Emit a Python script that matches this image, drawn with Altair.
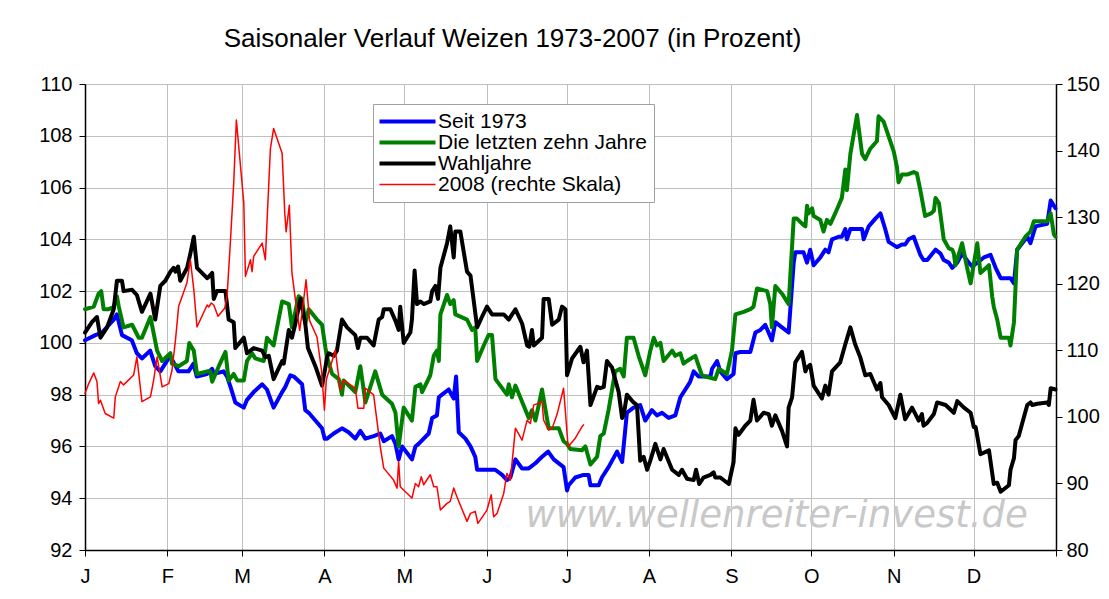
import altair as alt
import pandas as pd

# ---------------- data (day of year, value) ----------------
months = ["J", "F", "M", "A", "M", "J", "J", "A", "S", "O", "N", "D"]
month_start = [0, 31, 59, 90, 120, 151, 181, 212, 243, 273, 304, 334, 365]
left_ticks = [92, 94, 96, 98, 100, 102, 104, 106, 108, 110]
right_ticks = [80, 90, 100, 110, 120, 130, 140, 150]

series_names = ["Seit 1973", "Die letzten zehn Jahre", "Wahljahre", "2008 (rechte Skala)"]
series_colors = ["#0000FF", "#008000", "#000000", "#FF0000"]
series_widths = [4, 4, 4, 1.5]

blue_day = [0, 3.9, 6.4, 10.8, 12, 13.9, 17.6, 19.5, 21.4, 24.5, 26.4, 28.3, 32, 35.1, 38.9, 40.8, 42, 45.8,
            47.8, 48.4, 52.1, 53.4, 54.7, 56.5, 59.7, 60.9, 63.4, 66.6, 68.4, 70.9, 74.1, 75.3, 77.2, 78.5, 81.6,
            82.8, 84.1, 86.6, 89.1, 90.1, 91, 93.5, 96.6, 99.1, 101.6, 103.5, 105.4, 108.5, 111, 112.3, 115.4,
            116.7, 117.9, 119.2, 122.9, 124.2, 125.4, 129.2, 130.5, 132.3, 133, 134.2, 136.7, 138.6, 139.5, 140.5,
            143, 144.9, 146.7, 147.4, 150.5, 154.2, 156.8, 158.6, 159.9, 161.8, 164.3, 166.8, 169.3, 171.8, 174.1,
            176.2, 179.9, 181.2, 181.8, 184.3, 187.4, 189.3, 190, 193.1, 194.3, 196.8, 200, 201.9, 203.7, 206.2,
            208.7, 210.6, 213.1, 215, 216.9, 219.4, 221.9, 223.8, 226.3, 227.5, 228.8, 230.7, 235.1, 235.7, 237.6,
            238.8, 241.3, 243.8, 244.5, 246.3, 250.1, 252, 253.9, 255.7, 258.2, 259.5, 262, 264.5, 266.4, 267,
            270.1, 271.4, 272.6, 273.9, 276.4, 278.3, 279.5, 280.8, 283.3, 284.5, 285.8, 286.4, 287.7, 290.2,
            292.1, 292.7, 294.6, 297.1, 299, 300.8, 302.1, 305.2, 307.1, 308.3, 309.6, 311.5, 314, 315.2, 316.6,
            319.7, 321.6, 322.8, 324.7, 326, 327.9, 329.7, 332.2, 333.5, 335.4, 337.9, 340.4, 342.3, 344.2, 347.9,
            349.2, 350.4, 352.3, 354.2, 355.4, 357.3, 361.7, 363, 364.8]
blue_val = [100.1, 100.3, 100.4, 100.9, 101.1, 100.3, 100.1, 99.6, 99.4, 99.7, 99.1, 98.9, 99.5, 98.9, 98.9, 99.2,
            98.7, 98.8, 99.0, 98.8, 98.9, 98.7, 98.3, 97.7, 97.5, 97.8, 98.1, 98.4, 98.2, 97.5, 98.1, 98.3, 98.75,
            98.7, 98.4, 97.4, 97.3, 97.0, 96.7, 96.3, 96.3, 96.5, 96.7, 96.55, 96.3, 96.6, 96.3, 96.4, 96.5, 96.2,
            96.4, 96.1, 95.5, 96.0, 95.5, 96.0, 96.1, 96.5, 97.1, 97.2, 97.9, 98.0, 98.2, 97.85, 98.7, 96.55, 96.3,
            96.0, 95.6, 95.1, 95.1, 95.1, 94.9, 94.7, 94.8, 95.5, 95.15, 95.15, 95.35, 95.6, 95.8, 95.5, 95.2, 94.3,
            94.5, 94.8, 94.9, 94.9, 94.5, 94.5, 94.8, 95.2, 95.8, 95.4, 97.3, 97.5, 97.6, 97.0, 97.4, 97.2, 97.3,
            97.1, 97.2, 97.9, 98.3, 98.5, 98.9, 98.7, 98.7, 99.0, 99.3, 98.9, 98.6, 98.8, 99.6, 99.65, 99.65, 100.4,
            100.5, 100.7, 100.1, 100.8, 100.6, 100.4, 103.1, 103.5, 103.5, 103.1, 103.6, 103.0, 103.3, 103.6, 103.5,
            104.0, 104.1, 104.1, 104.4, 104.0, 104.4, 104.4, 104.4, 104.0, 104.5, 104.8, 105.0, 104.4, 103.9,
            103.7, 103.8, 103.8, 104.0, 104.1, 103.4, 103.2, 103.2, 103.6, 103.45, 103.2, 103.1, 102.9, 103.1,
            103.45, 103.1, 102.95, 103.1, 103.3, 103.4, 102.9, 102.5, 102.5, 102.3, 103.6, 103.85, 104.1, 103.85,
            104.5, 104.6, 105.5, 105.2]

green_day = [0, 3.3, 5.1, 6.1, 7, 8.9, 10.8, 12, 12.7, 14.5, 17.7, 20.2, 21.4, 24.6, 27.1, 29, 32.1, 32.7, 35.2,
             38.3, 39.2, 40.9, 42.1, 45.9, 47.1, 47.8, 50.3, 52.8, 54, 55.9, 57.2, 59.7, 60.9, 62.8, 64, 67.2, 68.4,
             70.9, 74.1, 76.6, 77.8, 80.3, 81.6, 82.8, 84.1, 87.2, 89.1, 90.4, 91, 92.9, 95.4, 96.6, 97.2, 101.6,
             103.5, 105.4, 109.1, 111.7, 115.4, 116.7, 117.9, 119.8, 122.9, 124.2, 126.1, 126.7, 129.8, 131.1,
             132.3, 133, 133.6, 136.1, 137.3, 138.6, 139.2, 143.6, 145.5, 146.7, 147.4, 149.9, 151.7, 153, 154.3,
             158.6, 159.3, 160.5, 161.8, 166.8, 168, 169.3, 171.8, 174.3, 178.1, 179.9, 181.2, 182.4, 186.8, 188.1,
             190, 192.5, 193.7, 195, 196.8, 199.3, 201.2, 202.5, 203.7, 206.2, 208.1, 210.6, 212.5, 213.8, 215,
             216.3, 217.5, 220.7, 221.9, 223.8, 225, 226.3, 229.4, 231.9, 233.2, 236.9, 238.2, 241.3, 243.2, 244.5,
             247.6, 250.1, 251.3, 252.6, 256.4, 257.6, 258.2, 259.5, 262, 264.5, 266.4, 267.6, 270.1, 270.8, 271.4,
             272, 273.3, 273.9, 276.4, 277.6, 278.9, 280.2, 282, 284.5, 285.8, 286.4, 287.7, 290.2, 292.1, 293.3,
             295.2, 297.7, 298.3, 300.2, 304, 305.2, 305.8, 307.1, 309, 311.5, 312.7, 314, 315.8, 318, 319.1, 319.7,
             321, 322.8, 324.7, 326, 326.6, 327.2, 329.7, 331.6, 332.9, 335.4, 336.6, 339.8, 341, 341.6, 342.9,
             344.2, 347.3, 347.9, 349.2, 350.4, 351, 353.5, 355.4, 356.7, 359.8, 361.7, 363, 364.2, 364.8]
green_val = [101.3, 101.4, 101.9, 102.0, 101.3, 101.3, 101.4, 101.8, 101.4, 100.6, 100.7, 100.2, 100.2, 101.0,
             99.7, 99.3, 99.6, 99.2, 99.1, 99.3, 100.0, 99.7, 98.8, 98.9, 98.9, 98.5, 99.1, 99.65, 98.55, 98.8,
             98.55, 98.55, 99.3, 99.6, 99.4, 99.3, 100.2, 99.9, 101.6, 101.5, 100.6, 101.8, 101.7, 100.75, 101.3,
             100.9, 100.7, 99.8, 99.45, 98.8, 98.6, 98.0, 98.55, 98.1, 99.1, 97.7, 98.9, 98.0, 97.65, 97.3, 96.0,
             97.5, 97.0, 98.3, 98.4, 98.1, 98.75, 99.5, 99.7, 99.3, 101.1, 101.85, 101.5, 101.65, 101.1, 100.9,
             100.5, 100.6, 99.3, 99.9, 100.3, 100.3, 98.6, 98.0, 98.4, 97.9, 98.35, 97.1, 97.4, 97.0, 98.2, 96.7,
             96.7, 96.2, 96.1, 95.9, 95.85, 96.0, 95.3, 95.6, 96.4, 96.5, 97.4, 98.9, 99.0, 98.7, 100.2, 100.2,
             99.5, 98.75, 99.7, 100.2, 99.9, 100.0, 99.3, 99.7, 99.5, 99.6, 99.2, 99.3, 99.5, 98.75, 98.7, 98.6,
             99.0, 98.8, 99.7, 101.1, 101.2, 101.3, 101.4, 102.1, 102.0, 101.5, 100.6, 102.2, 101.9, 101.5, 104.8,
             104.8, 104.55, 104.5, 105.3, 105.0, 105.2, 104.9, 104.75, 104.3, 104.75, 104.6, 105.0, 105.6, 106.7,
             105.9, 107.3, 108.8, 107.3, 107.1, 107.5, 107.8, 108.75, 108.55, 107.4, 106.8, 106.2, 106.5, 106.5,
             106.6, 106.55, 105.9, 104.9, 105.0, 105.1, 105.6, 105.4, 104.0, 103.65, 103.6, 103.45, 103.0, 103.85,
             102.9, 102.3, 103.85, 102.7, 103.0, 101.8, 101.4, 100.9, 100.2, 100.2, 99.9, 100.8, 103.6, 103.7,
             104.1, 104.3, 104.7, 104.7, 104.7, 105.0, 104.2, 104.1]

black_day = [0, 2.6, 4.5, 5.8, 8.3, 10.8, 12, 13.9, 14.5, 17.7, 19.5, 21.4, 24.6, 26.4, 28.3, 30.2, 32.1, 33.3, 34,
             35, 35.8, 38.4, 39.6, 40.9, 42.1, 45.9, 46.5, 47.8, 48.4, 49.6, 52.8, 54, 55.9, 56.5, 59.7, 60.9, 63.4,
             66.6, 67.8, 69.1, 70.9, 74.1, 74.7, 76.6, 77.8, 79.1, 81, 81.6, 82.8, 83.8, 86.6, 89.1, 90.1, 91, 91.6,
             93.5, 94.7, 96.6, 98.5, 101.6, 102.6, 103.5, 106, 108.5, 110.4, 111.7, 112.3, 114.8, 116.7, 117.9,
             118.5, 119.8, 122.3, 122.9, 123.9, 124.8, 126.1, 127.3, 129.8, 130.5, 131.7, 132.7, 133.6, 136.1,
             137.3, 138.6, 139.2, 141.1, 143.6, 144.9, 147.4, 149.2, 151.1, 153, 154.9, 157.4, 159.3, 161.8, 164.3,
             166.2, 167, 168, 168.7, 171.8, 172.4, 174.3, 175.6, 178.1, 179.3, 180.6, 181.2, 183.1, 186.2, 187.4,
             188.7, 190, 192.5, 193.7, 195, 196.2, 198.1, 200.6, 201.9, 202.5, 203.7, 206.2, 207.5, 208.7, 210,
             211.3, 212.5, 214.4, 216.3, 217.5, 220.7, 223.2, 224.4, 226.3, 228.8, 229.7, 230.9, 232.5, 235.1,
             236.3, 236.9, 238.8, 242, 243.8, 244.5, 245.7, 248.2, 250.1, 251.3, 252.6, 255.1, 257, 258.2, 259.5,
             262, 263.9, 264.5, 265.8, 267, 269.5, 270.8, 271.4, 272.6, 273.9, 277, 278.3, 279.5, 280.8, 283.9,
             285.8, 287.7, 289.5, 291.4, 293.3, 295.2, 297.7, 299, 299.6, 302.1, 304.6, 306.5, 308.3, 310.9, 313.4,
             314.6, 315.2, 316.5, 319.1, 320.3, 323.5, 326.6, 327.9, 330.4, 332.9, 334.1, 334.8, 336.6, 339.8,
             341.6, 342.9, 344.2, 347.3, 347.9, 349.2, 349.8, 351, 352.3, 354.2, 355.4, 356.1, 358, 361.7, 362.3,
             363, 364.8]
black_val = [100.4, 100.8, 101.0, 100.2, 100.6, 101.3, 102.4, 102.4, 102.0, 102.05, 101.85, 101.2, 101.9, 100.9,
             102.2, 102.4, 102.75, 102.9, 102.75, 102.95, 102.4, 102.9, 103.45, 104.1, 102.9, 102.5, 102.55, 102.7,
             101.7, 102.0, 102.0, 100.9, 100.8, 99.8, 100.2, 99.6, 99.8, 99.7, 99.45, 99.5, 98.6, 99.3, 99.2, 100.5,
             100.2, 100.75, 101.7, 101.4, 100.75, 99.8, 99.1, 98.35, 98.9, 99.45, 99.6, 99.5, 99.7, 100.9, 100.6,
             100.3, 99.8, 100.2, 100.2, 99.9, 100.9, 101.0, 101.3, 101.3, 100.85, 100.5, 101.4, 100.0, 100.4, 100.9,
             102.8, 101.5, 101.6, 101.5, 101.6, 102.0, 102.2, 101.7, 102.9, 103.85, 104.5, 103.3, 104.3, 104.3,
             102.75, 102.6, 100.6, 101.0, 101.4, 101.1, 101.1, 101.1, 100.9, 101.3, 100.75, 99.9, 99.85, 100.5,
             99.9, 100.2, 101.7, 101.7, 100.7, 100.9, 101.4, 101.3, 98.75, 99.4, 99.85, 99.25, 99.7, 97.6, 98.3,
             98.25, 98.3, 99.3, 99.05, 98.1, 97.1, 97.2, 98.0, 97.7, 97.6, 95.45, 95.6, 95.1, 95.45, 96.1, 95.5,
             95.9, 95.1, 94.9, 95.1, 94.75, 94.7, 95.1, 94.55, 94.8, 94.9, 95.0, 94.8, 94.8, 94.55, 95.4, 96.7,
             96.45, 96.8, 97.0, 97.8, 97.0, 97.3, 97.25, 96.8, 97.2, 96.6, 96.0, 97.5, 97.9, 99.25, 99.65, 98.9,
             99.05, 99.15, 98.35, 97.85, 98.35, 98.0, 98.9, 99.25, 99.95, 100.6, 99.95, 99.45, 98.75, 98.8, 98.2,
             98.45, 97.9, 97.6, 97.1, 98.0, 97.05, 97.5, 97.0, 97.25, 96.8, 96.9, 97.25, 97.7, 97.6, 97.3, 97.75,
             97.5, 97.3, 96.75, 96.75, 95.7, 95.85, 94.55, 94.6, 94.25, 94.5, 95.1, 95.55, 96.25, 96.4, 96.9, 97.6,
             97.7, 97.6, 97.65, 97.7, 97.6, 98.25, 98.2]

red_day = [0, 1.4, 3.3, 4.5, 5.1, 5.8, 7.6, 10.8, 11.4, 13.3, 14.5, 18.3, 19.5, 21.4, 24.6, 25.8, 27.1, 29, 31.5,
           32.7, 34, 35.2, 38.3, 39.6, 40.9, 42.1, 45.9, 46.5, 47.5, 48.4, 50, 52.5, 53.4, 54.7, 55.9, 56.9, 59.7,
           60.3, 62.2, 62.8, 63.4, 66.6, 67.8, 68.4, 69.7, 70.9, 74.1, 75.1, 75.6, 76.8, 77.8, 79.1, 80.7, 81.6,
           83.1, 84.4, 87.2, 88.9, 90, 90.7, 91, 92.2, 94.1, 96, 97.2, 101.6, 102.6, 104.8, 105.4, 108.5, 111,
           112.3, 116, 117.3, 117.9, 118.5, 122.9, 124.2, 125.4, 126.4, 127.3, 129.8, 131.1, 132.3, 133.6, 136.1,
           137.3, 138.6, 139.8, 143.6, 144.9, 146.7, 147.7, 151.1, 152.7, 153.6, 154.9, 157.4, 158.6, 159.9,
           161.8, 164.3, 166.2, 167.4, 168.7, 170.5, 171.8, 172.4, 174.3, 175.6, 177.4, 179.9, 181.6, 184.3,
           186.8, 187.4]
red_val = [103.5, 105.0, 106.6, 105.3, 102.0, 102.5, 100.5, 99.8, 103.0, 105.3, 104.8, 106.3, 109.0, 102.3, 103.0,
           105.5, 109.0, 104.5, 105.0, 107.0, 111.5, 116.6, 120.1, 123.6, 119.1, 113.5, 116.8, 116.5, 117.1, 116.8,
           115.1, 116.3, 118.1, 126.6, 135.1, 144.6, 132.1, 121.1, 123.6, 121.8, 124.1, 126.1, 123.6, 129.1, 140.3,
           143.3, 139.6, 130.6, 127.8, 131.8, 121.6, 117.6, 113.0, 115.6, 120.6, 114.5, 112.0, 107.0, 101.0, 105.5,
           106.0, 107.5, 110.0, 104.0, 105.5, 104.3, 101.3, 101.3, 104.3, 103.3, 95.5, 92.3, 90.5, 89.3, 93.3,
           89.5, 87.8, 90.0, 89.5, 91.0, 89.8, 91.3, 89.5, 89.5, 86.0, 87.0, 87.3, 89.3, 88.0, 84.3, 85.5, 85.8,
           84.0, 86.0, 88.3, 85.0, 85.5, 88.5, 91.5, 90.5, 98.3, 96.5, 99.5, 99.0, 101.8, 102.0, 102.3, 99.5, 98.0,
           98.3, 100.3, 104.3, 95.5, 96.8, 98.5, 98.8]

watermark_text = ["www.wellenreiter-invest.de"]
watermark_day = [260]
watermark_val = [92.9]

# ---------------- build table ----------------
frames = []
for name, d, v in zip(series_names, [blue_day, green_day, black_day, red_day],
                      [blue_val, green_val, black_val, red_val]):
    frames.append(pd.DataFrame({"day": d, "value": v, "series": name}))
df = pd.concat(frames, ignore_index=True)
wm = pd.DataFrame({"day": watermark_day, "value": watermark_val, "text": watermark_text})

FONT = "Liberation Sans"
label_expr = ("[" + ",".join("'%s'" % m for m in months + [""]) + "][indexof(["
              + ",".join(str(s) for s in month_start) + "], datum.value)]")

x_enc = alt.X("day:Q", scale=alt.Scale(domain=[0, 365], nice=False, zero=False),
              axis=alt.Axis(values=month_start, labelExpr=label_expr, title=None, grid=True,
                            tickSize=6, labelPadding=10, labelFlush=False, labelOverlap=False))
left_scale = alt.Scale(domain=[92, 110], nice=False, zero=False)
left_axis = alt.Axis(values=left_ticks, title=None, grid=True, tickSize=6, labelPadding=7, orient="left")
right_axis = alt.Axis(values=right_ticks, title=None, grid=False, tickSize=6, labelPadding=4, orient="right")

color_enc = alt.Color("series:N", scale=alt.Scale(domain=series_names, range=series_colors),
                      legend=alt.Legend(title=None))
width_enc = alt.StrokeWidth("series:N",
                            scale=alt.Scale(type="ordinal", domain=series_names, range=series_widths),
                            legend=alt.Legend(title=None))

base = alt.Chart(df)


def series_line(i, right=False):
    name = series_names[i]
    y = alt.Y("value:Q",
              scale=alt.Scale(domain=[80, 150], nice=False, zero=False) if right else left_scale,
              axis=right_axis if right else left_axis)
    return base.transform_filter(alt.datum.series == name).mark_line(
        strokeJoin="round", strokeCap="round").encode(
        x=x_enc, y=y, color=color_enc, strokeWidth=width_enc)


watermark = alt.Chart(wm).mark_text(font="DejaVu Sans", fontStyle="italic", fontSize=37,
                                    color="#c8c8c8", align="center", baseline="alphabetic").encode(
    x=alt.X("day:Q", scale=alt.Scale(domain=[0, 365], nice=False, zero=False)),
    y=alt.Y("value:Q", scale=left_scale),
    text="text:N")

left = alt.layer(watermark, series_line(0), series_line(1), series_line(2))
right = series_line(3, right=True)

chart = alt.layer(left, right).resolve_scale(y="independent").properties(
    width=971, height=466,
    autosize=alt.AutoSizeParams(type="none"),
    padding={"left": 77, "top": 76, "right": 44, "bottom": 40},
    title=alt.TitleParams("Saisonaler Verlauf Weizen 1973-2007 (in Prozent)", anchor="middle",
                          frame="group", dx=-58, offset=22, fontSize=26, font=FONT,
                          fontWeight="normal", color="#000000"),
).configure_axis(
    labelFont=FONT, labelFontSize=20, labelColor="#000000", domainColor="#000000", domainWidth=1.5,
    tickColor="#000000", gridColor="#c0c0c0", gridWidth=1,
).configure_view(
    stroke="#000000", strokeWidth=1,
).configure_legend(
    orient="none", legendX=288, legendY=20, fillColor="#ffffff", strokeColor="#a0a0a0", padding=7,
    labelFont=FONT, labelFontSize=21, labelColor="#000000", labelLimit=0,
    symbolType="M-7,0H7", symbolSize=64, symbolOffset=17, labelOffset=20,
    rowPadding=-1,
)

chart.save("out.html", embed_options={"renderer": "svg", "actions": False})
